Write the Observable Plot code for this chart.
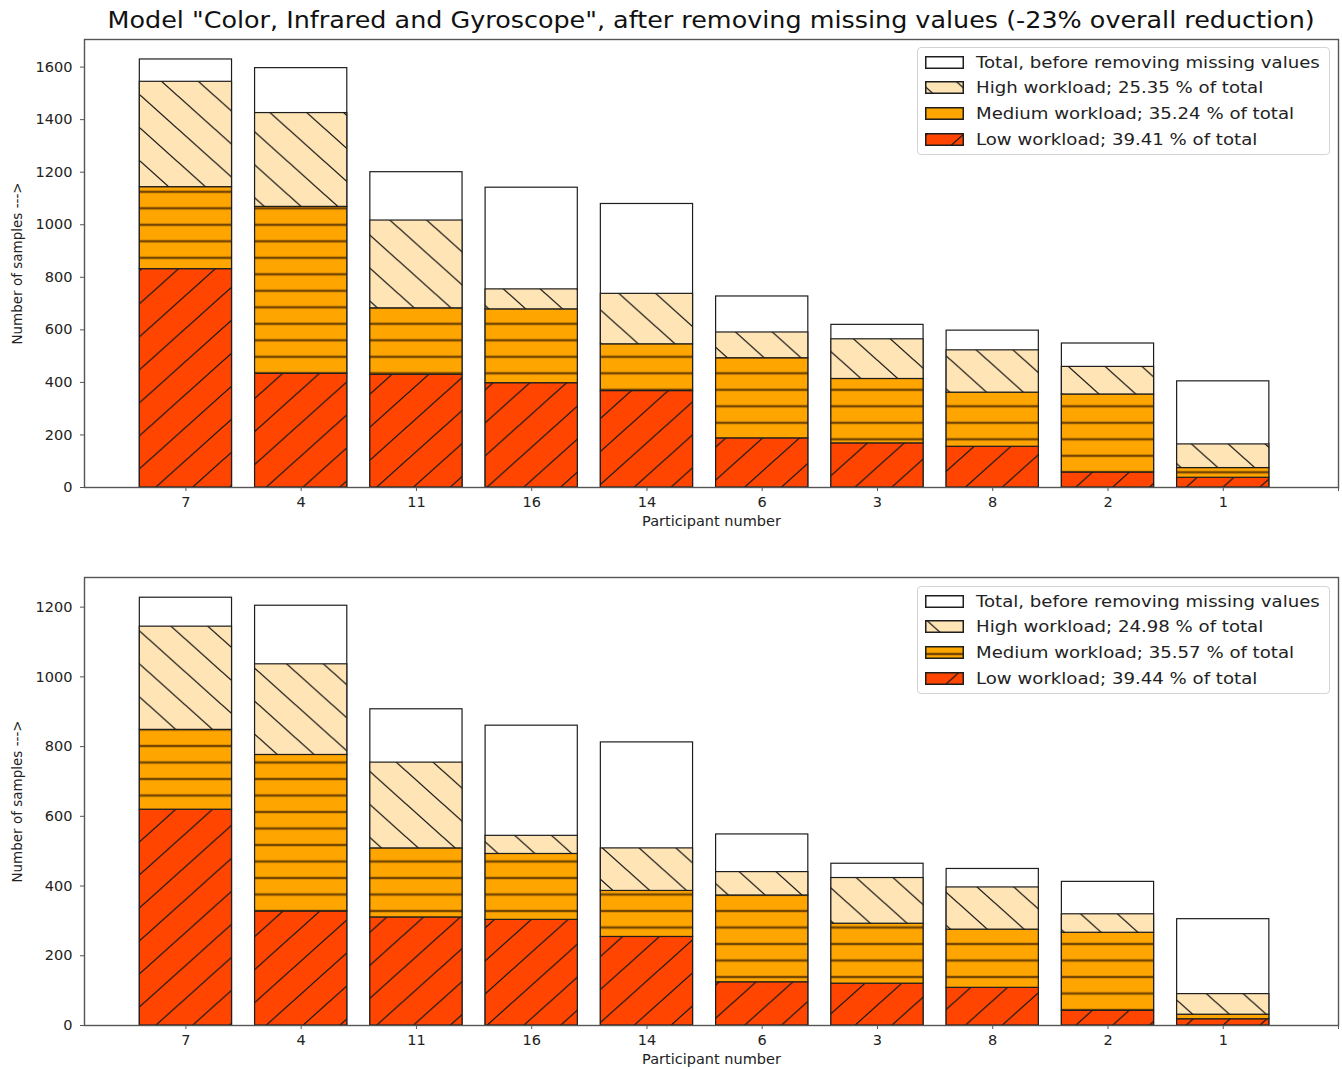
<!DOCTYPE html>
<html>
<head>
<meta charset="utf-8">
<script src="https://cdn.jsdelivr.net/npm/d3@7"></script>
<script src="https://cdn.jsdelivr.net/npm/@observablehq/plot@0.6"></script>
<style>
  html, body { margin: 0; padding: 0; background: #fff; }
  body { width: 1342px; height: 1069px; overflow: hidden; position: relative; font-family: "DejaVu Sans", sans-serif; color: #222; }
  #title { position: absolute; left: 84px; width: 1254px; top: 9px; text-align: center; font-size: 22.5px; line-height: 22px; white-space: nowrap; color: #111; }
  #title span { display: inline-block; transform: scaleX(1.13); transform-origin: center; }
  .chart { position: absolute; left: 0; }
  .legend { position: absolute; left: 917px; width: 411px; height: 106px; border: 1px solid #d4d4d4; border-radius: 4px; background: rgba(255,255,255,0.85); }
  .legend .row { position: absolute; left: 7px; height: 26px; display: flex; align-items: center; white-space: nowrap; font-size: 16px; color: #222; }
  .legend .row span { display: inline-block; transform: scaleX(1.133); transform-origin: left center; }
  .legend svg { display: block; margin-right: 12px; }
</style>
</head>
<body>
<div id="title"><span>Model "Color, Infrared and Gyroscope", after removing missing values (-23% overall reduction)</span></div>
<div id="c1" class="chart" style="top:30px"></div>
<div id="c2" class="chart" style="top:540px"></div>
<script>
// ---------- data ----------
const participants = ["7", "4", "11", "16", "14", "6", "3", "8", "2", "1"];

// top chart
const totalBefore1 = [1629, 1596, 1200, 1141, 1079, 727, 619, 597, 548, 404];
const lowWorkload1 = [831, 433, 429, 397, 367, 187, 168, 155, 57, 37];
const mediumWorkload1 = [312, 635, 253, 281, 178, 305, 245, 206, 297, 37];
const highWorkload1 = [401, 357, 334, 76, 192, 98, 151, 161, 105, 90];
const legendLabels1 = [
  "Total, before removing missing values",
  "High workload; 25.35 % of total",
  "Medium workload; 35.24 % of total",
  "Low workload; 39.41 % of total"
];

// bottom chart
const totalBefore2 = [1227, 1204, 907, 860, 812, 548, 464, 449, 412, 305];
const lowWorkload2 = [619, 327, 310, 303, 254, 124, 120, 108, 42, 18];
const mediumWorkload2 = [229, 449, 198, 189, 132, 249, 172, 167, 224, 13];
const highWorkload2 = [296, 260, 246, 52, 122, 67, 131, 121, 53, 59];
const legendLabels2 = [
  "Total, before removing missing values",
  "High workload; 24.98 % of total",
  "Medium workload; 35.57 % of total",
  "Low workload; 39.44 % of total"
];

const yTicks1 = [0, 200, 400, 600, 800, 1000, 1200, 1400, 1600];
const yTicks2 = [0, 200, 400, 600, 800, 1000, 1200];

// ---------- style ----------
const colors = { total: "#ffffff", high: "#ffe4b5", medium: "#ffa500", low: "#ff4500" };
const HW = 36.8, HH = 33, MH = 16.5;

function addPatterns(svg, k, ph) {
  const defs = d3.select(svg).insert("defs", ":first-child");
  // low: '/'
  const pl = defs.append("pattern").attr("id", "low" + k).attr("patternUnits", "userSpaceOnUse")
    .attr("width", HW).attr("height", HH).attr("x", ph.low).attr("y", 0);
  pl.append("rect").attr("width", HW).attr("height", HH).attr("fill", colors.low);
  pl.append("path").attr("d", `M0,${HH}L${HW},0M${-HW/2},${HH/2}L${HW/2},${-HH/2}M${HW/2},${1.5*HH}L${1.5*HW},${HH/2}`)
    .attr("stroke", "#1a1a1a").attr("stroke-width", 1.3).attr("fill", "none");
  // high: '\'
  const phi = defs.append("pattern").attr("id", "high" + k).attr("patternUnits", "userSpaceOnUse")
    .attr("width", HW).attr("height", HH).attr("x", ph.high).attr("y", 0);
  phi.append("rect").attr("width", HW).attr("height", HH).attr("fill", colors.high);
  phi.append("path").attr("d", `M0,0L${HW},${HH}M${HW/2},${-HH/2}L${1.5*HW},${HH/2}M${-HW/2},${HH/2}L${HW/2},${1.5*HH}`)
    .attr("stroke", "#1a1a1a").attr("stroke-width", 1.3).attr("fill", "none");
  // medium: '-'
  const pm = defs.append("pattern").attr("id", "med" + k).attr("patternUnits", "userSpaceOnUse")
    .attr("width", 20).attr("height", MH).attr("x", 0).attr("y", ph.med);
  pm.append("rect").attr("width", 20).attr("height", MH).attr("fill", colors.medium);
  pm.append("path").attr("d", `M0,0H20M0,${MH}H20`)
    .attr("stroke", "#3a2000").attr("stroke-opacity", 0.7).attr("stroke-width", 2.2).attr("fill", "none");
}

function buildChart(k, total, low, medium, high, yMax, yTicks, height, marginTop, marginBottom) {
  const idx = participants.map((p, i) => i);
  const rows = idx.map(i => ({
    i, p: participants[i],
    total: total[i],
    l1: 0, l2: low[i],
    m1: low[i], m2: low[i] + medium[i],
    h1: low[i] + medium[i], h2: low[i] + medium[i] + high[i]
  }));
  const x1 = d => d.i - 0.4, x2 = d => d.i + 0.4;
  const strokeC = "#1e1e1e", sw = 1.2;
  const svg = Plot.plot({
    width: 1342,
    height,
    marginTop,
    marginBottom,
    marginLeft: 84,
    marginRight: 4,
    style: { fontFamily: "DejaVu Sans", fontSize: "14.5px", color: "#222", background: "transparent" },
    x: { type: "linear", domain: [-0.88, 10], axis: null },
    y: { domain: [0, yMax], axis: null },
    marks: [
      Plot.rectY(rows, { x1, x2, y1: 0, y2: "total", fill: colors.total, stroke: strokeC, strokeWidth: sw }),
      Plot.rectY(rows, { x1, x2, y1: "l1", y2: "l2", fill: `url(#low${k})`, stroke: strokeC, strokeWidth: sw }),
      Plot.rectY(rows, { x1, x2, y1: "m1", y2: "m2", fill: `url(#med${k})`, stroke: strokeC, strokeWidth: sw }),
      Plot.rectY(rows, { x1, x2, y1: "h1", y2: "h2", fill: `url(#high${k})`, stroke: strokeC, strokeWidth: sw }),
      Plot.frame({ stroke: "#555", strokeWidth: 1.4 }),
      Plot.axisY({ ticks: yTicks, tickFormat: d => String(d), tickSize: 4, tickPadding: 8, label: null, stroke: "#555", fill: "#222" }),
      Plot.axisX({ ticks: d3.range(0, 11), tickFormat: i => participants[i] ?? "", tickSize: 4, tickPadding: 5.5, label: null, stroke: "#555", fill: "#222" }),
      Plot.text(["Participant number"], { frameAnchor: "bottom", dy: 38, fontSize: 14.5, fill: "#222" }),
      Plot.text(["Number of samples --->"], { frameAnchor: "left", dx: -67, rotate: -90, textAnchor: "middle", fontSize: 13.5, fill: "#222" })
    ]
  });
  return svg;
}

function buildLegend(container, k, labels, top) {
  const lg = document.createElement("div");
  lg.className = "legend";
  lg.style.top = top + "px";
  const fills = ["#ffffff", `url(#high${k})`, `url(#med${k})`, `url(#low${k})`];
  labels.forEach((lab, j) => {
    const row = document.createElement("div");
    row.className = "row";
    row.style.top = (1 + j * 25.9) + "px";
    const sw = d3.create("svg").attr("width", 39).attr("height", 13);
    sw.append("rect").attr("x", 0.75).attr("y", 0.75).attr("width", 37.5).attr("height", 11.5)
      .attr("fill", fills[j]).attr("stroke", "#1e1e1e").attr("stroke-width", 1.5);
    row.appendChild(sw.node());
    const t = document.createElement("span");
    t.textContent = lab;
    row.appendChild(t);
    lg.appendChild(row);
  });
  container.appendChild(lg);
}

const c1 = document.getElementById("c1");
const svg1 = buildChart(1, totalBefore1, lowWorkload1, mediumWorkload1, highWorkload1, 1705, yTicks1, 510, 9, 53);
addPatterns(svg1, 1, { low: 3.2, high: 30.7, med: 13.3 });
c1.appendChild(svg1);
buildLegend(c1, 1, legendLabels1, 17);

const c2 = document.getElementById("c2");
const svg2 = buildChart(2, totalBefore2, lowWorkload2, mediumWorkload2, highWorkload2, 1285, yTicks2, 529, 37, 44);
addPatterns(svg2, 2, { low: 34.5, high: 1.3, med: 8 });
c2.appendChild(svg2);
buildLegend(c2, 2, legendLabels2, 46);
</script>
</body>
</html>
